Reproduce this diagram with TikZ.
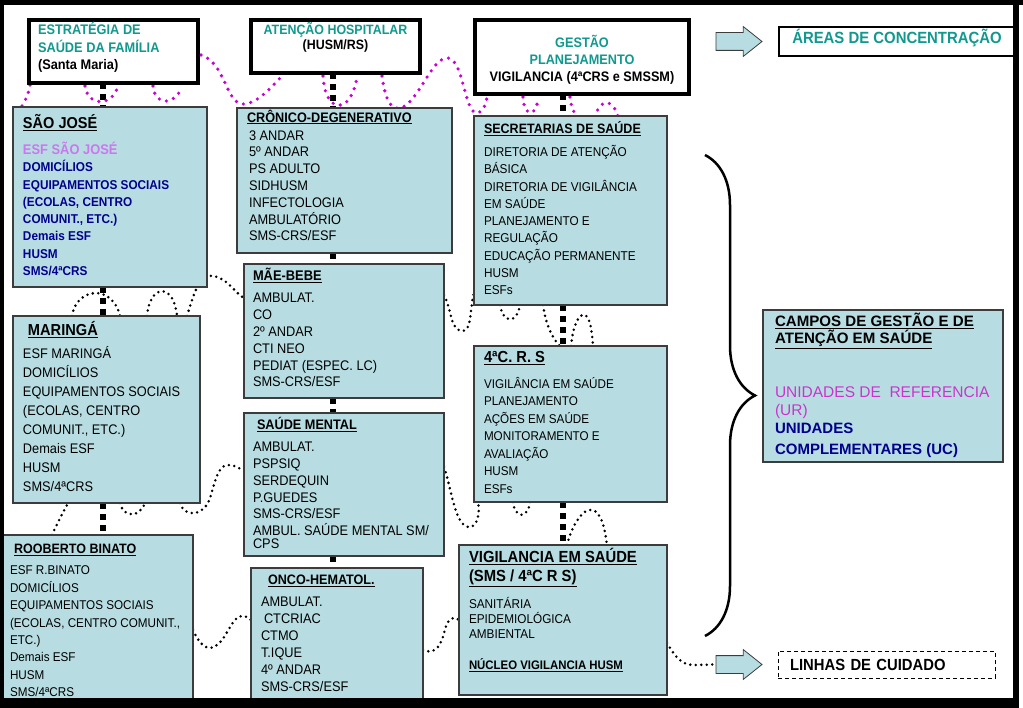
\documentclass[tikz,border=0pt]{standalone}
\usepackage{fontspec}
\setmainfont{Liberation Sans}[FakeStretch=0.92]
\newfontfamily\cpfont{Liberation Sans}
\usepackage{tikz}
\usetikzlibrary{positioning}
\usetikzlibrary{calc}
\usetikzlibrary{shapes.arrows}
\usetikzlibrary{decorations.pathreplacing}
\usetikzlibrary{backgrounds}
\definecolor{boxfill}{RGB}{183,221,226}
\definecolor{boxline}{RGB}{60,60,60}
\definecolor{tealtxt}{RGB}{17,153,142}
\definecolor{esfvio}{RGB}{204,119,238}
\definecolor{navytxt}{RGB}{0,0,140}
\definecolor{refmag}{RGB}{204,51,204}
\definecolor{dotmag}{RGB}{200,0,210}
\newcommand{\fsz}[2]{\fontsize{#1pt}{#2pt}\selectfont}
\newcommand{\ttl}[2]{{\fsz{#1}{#1}\bfseries\underline{#2}}}
\tikzset{
hdr/.style={
  draw=black,
  line width=4pt,
  fill=white,
  anchor=north west,
  inner sep=0pt,
  outer sep=0pt
  },
area/.style={
  draw=boxline,
  line width=1.2pt,
  fill=boxfill,
  anchor=north west,
  inner sep=0pt,
  outer sep=0pt
  },
txt/.style={
  align=left,
  inner sep=0pt,
  outer sep=0pt
  },
sq/.style={line width=6pt, dash pattern=on 6pt off 5pt},
bdots/.style={line width=2.8pt, dash pattern=on 0pt off 5.5pt, line cap=round},
mdots/.style={draw=dotmag, line width=3.6pt, dash pattern=on 0pt off 7.5pt, line cap=round},
blockarr/.style={
  single arrow,
  draw=boxline,
  fill=boxfill,
  line width=0.8pt,
  minimum height=46pt,
  inner xsep=0pt,
  inner ysep=8.5pt,
  single arrow head extend=6pt,
  single arrow tip angle=77,
  outer sep=0pt
  }
}
\begin{document}
\begin{tikzpicture}[x=1pt,y=-1pt,semithick]
\useasboundingbox (0,0) rectangle (1023,708);
\coordinate (colA) at (103,0);
\coordinate (colB) at (333,0);
\coordinate (colC) at (563,0);
\node[hdr, minimum width=169pt, minimum height=63pt] (esf) at (29,20) {};
\node[hdr, minimum width=169pt, minimum height=53pt] (hosp) at (251,20) {};
\node[hdr, minimum width=214pt, minimum height=74pt] (gest) at (475,20) {};
\node[hdr, line width=2.5pt, minimum width=236pt, minimum height=29pt, text height=15pt, text depth=10.4pt, font=\fsz{16.2}{18}\bfseries, text=tealtxt] (areas) at (779,27) {ÁREAS DE CONCENTRAÇÃO};
\node[area, minimum width=194pt, minimum height=180pt] (sj) at (13,107) {};
\node[area, minimum width=187pt, minimum height=187pt] (mg) at (13,316) {};
\node[area, minimum width=191pt, minimum height=173pt] (bn) at (2,535) {};
\node[area, minimum width=215pt, minimum height=145pt] (cr) at (237,108) {};
\node[area, minimum width=200pt, minimum height=134pt] (mb) at (244,264) {};
\node[area, minimum width=200pt, minimum height=143pt] (sm) at (244,413) {};
\node[area, minimum width=172pt, minimum height=132pt] (on) at (251,568) {};
\node[area, minimum width=193pt, minimum height=189pt] (sc) at (474,116) {};
\node[area, minimum width=193pt, minimum height=156pt] (cr4) at (474,346) {};
\node[area, minimum width=208pt, minimum height=150pt] (vg) at (459,545) {};
\node[area, minimum width=240pt, minimum height=152pt] (cp) at (763,310) {};
\node[draw=black, line width=0.8pt, dash pattern=on 4pt off 3pt, anchor=north west, minimum height=27pt, text width=193pt, inner xsep=12pt, inner ysep=0pt, outer sep=0pt, align=left, font=\fsz{16.1}{18}\bfseries] (linhas) at (778,651) {LINHAS DE CUIDADO};
\node[blockarr, left=17pt of areas] (arr1) {};
\node[blockarr, left=16pt of linhas] (arr2) {};

\node[txt, font=\fsz{13.9}{17.5}\bfseries, below right=2.5pt and 9pt of esf.north west] (esft) {\textcolor{tealtxt}{ESTRATÉGIA DE}\\\textcolor{tealtxt}{SAÚDE DA FAMÍLIA}\\(Santa Maria)};
\node[txt, align=center, font=\fsz{13.5}{15}\bfseries, below=2pt of hosp.north] (hospt) {\textcolor{tealtxt}{ATENÇÃO HOSPITALAR}\\(HUSM/RS)};
\node[txt, align=center, font=\fsz{13.8}{17}\bfseries, below=15.7pt of gest.north] (gestt) {\textcolor{tealtxt}{GESTÃO}\\\textcolor{tealtxt}{PLANEJAMENTO}\\VIGILANCIA (4ªCRS e SMSSM)};
\node[txt, font=\fsz{12.8}{17.3}\bfseries, text=navytxt, below right=7.4pt and 10pt of sj.north west] (sjt) {\textcolor{black}{\ttl{15.8}{SÃO JOSÉ}}\\[8.7pt] {\fsz{14}{17.3}\color{esfvio}ESF SÃO JOSÉ}\\ DOMICÍLIOS\\ EQUIPAMENTOS SOCIAIS\\ (ECOLAS, CENTRO\\ COMUNIT., ETC.)\\ Demais ESF\\ HUSM\\ SMS/4ªCRS};
\node[txt, font=\fsz{13.9}{19}, below right=5.4pt and 10pt of mg.north west] (mgt) {\hspace{5pt}\ttl{15.9}{MARINGÁ}\\[4.4pt] ESF MARINGÁ\\ DOMICÍLIOS\\ EQUIPAMENTOS SOCIAIS\\ (ECOLAS, CENTRO\\ COMUNIT., ETC.)\\ Demais ESF\\ HUSM\\ SMS/4ªCRS};
\node[txt, font=\fsz{12.7}{17.4}, below right=8.7pt and 8pt of bn.north west] (bnt) {\hspace{4pt}\ttl{13.6}{ROOBERTO BINATO}\\[4.3pt] ESF R.BINATO\\ DOMICÍLIOS\\ EQUIPAMENTOS SOCIAIS\\ (ECOLAS, CENTRO COMUNIT.,\\ ETC.)\\ Demais ESF\\ HUSM\\ SMS/4ªCRS};
\node[txt, font=\fsz{13.9}{16.8}, below right=1.7pt and 12pt of cr.north west] (crt) {\hspace{-2pt}\ttl{13.8}{CRÔNICO-DEGENERATIVO}\\[1.2pt] 3 ANDAR\\ 5º ANDAR\\ PS ADULTO\\ SIDHUSM\\ INFECTOLOGIA\\ AMBULATÓRIO\\ SMS-CRS/ESF};
\node[txt, font=\fsz{13.9}{16.8}, below right=4.5pt and 9pt of mb.north west] (mbt) {\ttl{14}{MÃE-BEBE}\\[5.2pt] AMBULAT.\\ CO\\ 2º ANDAR\\ CTI NEO\\ PEDIAT (ESPEC. LC)\\ SMS-CRS/ESF};
\node[txt, font=\fsz{13.9}{16.75}, below right=4.7pt and 9pt of sm.north west] (smt) {\hspace{4pt}\ttl{13.8}{SAÚDE MENTAL}\\[5.2pt] AMBULAT.\\ PSPSIQ\\ SERDEQUIN\\ P.GUEDES\\ SMS-CRS/ESF\\ AMBUL. SAÚDE MENTAL SM/\\[-3.75pt] CPS};
\node[txt, font=\fsz{13.9}{17}, below right=6.7pt and 10pt of on.north west] (ont) {\hspace{7pt}\ttl{13.7}{ONCO-HEMATOL.}\\[5pt] AMBULAT.\\ \hspace{3pt}CTCRIAC\\ CTMO\\ T.IQUE\\ 4º ANDAR\\ SMS-CRS/ESF};
\node[txt, font=\fsz{12.8}{17.25}, below right=5.8pt and 10pt of sc.north west] (sct) {\ttl{13.6}{SECRETARIAS DE SAÚDE}\\[5.5pt] DIRETORIA DE ATENÇÃO\\ BÁSICA\\ DIRETORIA DE VIGILÂNCIA\\ EM SAÚDE\\ PLANEJAMENTO E\\ REGULAÇÃO\\ EDUCAÇÃO PERMANENTE\\ HUSM\\ ESFs};
\node[txt, font=\fsz{12.7}{17.5}, below right=5pt and 10pt of cr4.north west] (cr4t) {\ttl{16}{4ªC. R. S}\\[8.4pt] VIGILÂNCIA EM SAÚDE\\ PLANEJAMENTO\\ AÇÕES EM SAÚDE\\ MONITORAMENTO E\\ AVALIAÇÃO\\ HUSM\\ ESFs};
\node[txt, font=\fsz{12.8}{15}, below right=3.3pt and 10pt of vg.north west] (vgt) {\ttl{16.1}{VIGILANCIA EM SAÚDE}\\[4pt] \ttl{16.1}{(SMS / 4ªC R S)}\\[9.9pt] SANITÁRIA\\ EPIDEMIOLÓGICA\\ AMBIENTAL\\[15.9pt] \ttl{12.4}{NÚCLEO VIGILANCIA HUSM}};
\node[txt, font=\cpfont\fsz{15.5}{18}, below right=3.4pt and 12pt of cp.north west] (cpt) {\ttl{15.1}{CAMPOS DE GESTÃO E DE}\\[-1pt] \ttl{15.1}{ATENÇÃO EM SAÚDE}\\[35.2pt] \textcolor{refmag}{UNIDADES DE\ \ REFERENCIA}\\ \textcolor{refmag}{(UR)}\\ {\fsz{15}{18}\bfseries\color{navytxt}UNIDADES}\\[3pt] {\fsz{15}{18}\bfseries\color{navytxt}COMPLEMENTARES (UC)}};

\coordinate (brtop) at (705,155);
\coordinate (brbot) at (705,636);
\draw[line width=2.5pt, decorate, decoration={brace, amplitude=50pt}] (brtop) -- (brbot);

\begin{scope}[on background layer]
\draw[sq] (esf.south -| colA) -- (sj.north -| colA);
\draw[sq] (sj.south -| colA) -- (mg.north -| colA);
\draw[sq] (mg.south -| colA) -- (bn.north -| colA);
\draw[sq] (hosp.south -| colB) -- (cr.north -| colB);
\draw[sq] (cr.south -| colB) -- (mb.north -| colB);
\draw[sq] (mb.south -| colB) -- (sm.north -| colB);
\draw[sq] (sm.south -| colB) -- (on.north -| colB);
\draw[sq] (gest.south -| colC) -- (sc.north -| colC);
\draw[sq] (sc.south -| colC) -- (cr4.north -| colC);
\draw[sq] (cr4.south -| colC) -- (vg.north -| colC);

\draw[mdots] ($(esf.south west)+(1,2)$) .. controls (28,95) .. ($(sj.north west)+(9,-1)$);
\draw[mdots] ($(esf.south west)+(56,3)$) .. controls (88,107) and (112,107) .. ($(esf.south west)+(89,3)$);
\draw[mdots] ($(esf.south west)+(124,3)$) .. controls (155,107) and (175,105) .. ($(esf.south west)+(153,4)$);
\draw[mdots] ($(esf.north east)+(3,35)$) .. controls (225,62) and (226,104) .. (243,104) .. controls (258,104) and (272,86) .. ($(hosp.south west)+(32,2)$);
\draw[mdots] ($(hosp.south west)+(72,3)$) .. controls (325,115) and (352,115) .. ($(hosp.south west)+(106,3)$);
\draw[mdots] ($(hosp.south west)+(131,3)$) .. controls (385,98) and (390,110) .. (400,108) .. controls (418,104) and (432,56) .. (448,58) .. controls (464,60) and (464,113) .. (477,113) .. controls (483,113) and (486,104) .. ($(gest.south west)+(12,3)$);
\draw[mdots] ($(gest.south west)+(48,3)$) .. controls (524,118) and (537,118) .. ($(gest.south west)+(63,3)$);
\draw[mdots] ($(gest.south west)+(95,3)$) .. controls (572,110) .. ($(sc.north west)+(104,1)$);
\draw[mdots] ($(sc.north west)+(121,1)$) .. controls (600,98) and (613,98) .. ($(sc.north west)+(144,1)$);

\draw[bdots] ($(mg.north west)+(59,0)$) .. controls (76,288) and (112,283) .. ($(mg.north west)+(107,0)$);
\draw[bdots] ($(mg.north west)+(134,0)$) .. controls (150,283) and (174,283) .. ($(mg.north west)+(164,0)$);
\draw[bdots] ($(mg.north west)+(174,0)$) .. controls (195,290) and (200,273) .. (214,276) .. controls (228,279) and (236,294) .. ($(mb.north west)+(0,34)$);
\draw[bdots] ($(bn.north west)+(50,0)$) .. controls (58,522) .. ($(mg.south west)+(55,0)$);
\draw[bdots] ($(mg.south west)+(107,0)$) .. controls (124,519) and (140,517) .. ($(mg.south west)+(132,0)$);
\draw[bdots] ($(mg.south west)+(167,0)$) .. controls (184,517) and (201,516) .. (208,503) .. controls (214,490) and (216,465) .. (228,465) .. controls (236,465) and (240,469) .. ($(sm.north west)+(0,58)$);
\draw[bdots] ($(bn.north east)+(0,95)$) .. controls (200,645) and (206,650) .. (214,647) .. controls (226,642) and (232,615) .. (242,616) .. controls (246,616) and (249,618) .. ($(on.north west)+(0,52)$);
\draw[bdots] ($(mb.north east)+(0,31)$) .. controls (452,310) and (450,331) .. (463,331) .. controls (472,331) and (470,305) .. ($(sc.south west)+(0,-12)$);
\draw[bdots] ($(sc.south west)+(26,0)$) .. controls (503,324) and (517,324) .. ($(sc.south west)+(46,0)$);
\draw[bdots] ($(sc.south west)+(69,0)$) .. controls (546,325) and (552,338) .. ($(cr4.north west)+(86,0)$);
\draw[bdots] ($(cr4.north west)+(97,0)$) .. controls (573,325) and (579,313) .. (585,315) .. controls (591,318) and (592,335) .. ($(cr4.north west)+(119,0)$);
\draw[bdots] ($(sm.north east)+(0,54)$) .. controls (452,490) and (455,528) .. (470,527) .. controls (478,526) and (480,512) .. ($(cr4.south west)+(4,0)$);
\draw[bdots] ($(cr4.south west)+(39,0)$) .. controls (515,519) and (528,519) .. ($(cr4.south west)+(56,0)$);
\draw[bdots] ($(vg.north west)+(108,0)$) .. controls (572,525) and (583,508) .. (592,510) .. controls (602,512) and (605,530) .. ($(vg.north west)+(148,0)$);
\draw[bdots] ($(on.north east)+(0,82)$) .. controls (432,654) and (440,650) .. (444,633) .. controls (447,620) and (452,615) .. ($(vg.north west)+(0,75)$);
\draw[bdots] ($(vg.north east)+(0,98)$) .. controls (675,656) and (680,665) .. (695,665) -- (arr2.west);
\end{scope}

\draw[line width=5pt] (0,2.5) -- (1023,2.5);
\draw[line width=4pt] (2,0) -- (2,708);
\draw[line width=6pt] (1016,0) -- (1016,708);
\fill (0,698) rectangle (1019,708);
\end{tikzpicture}
\end{document}
